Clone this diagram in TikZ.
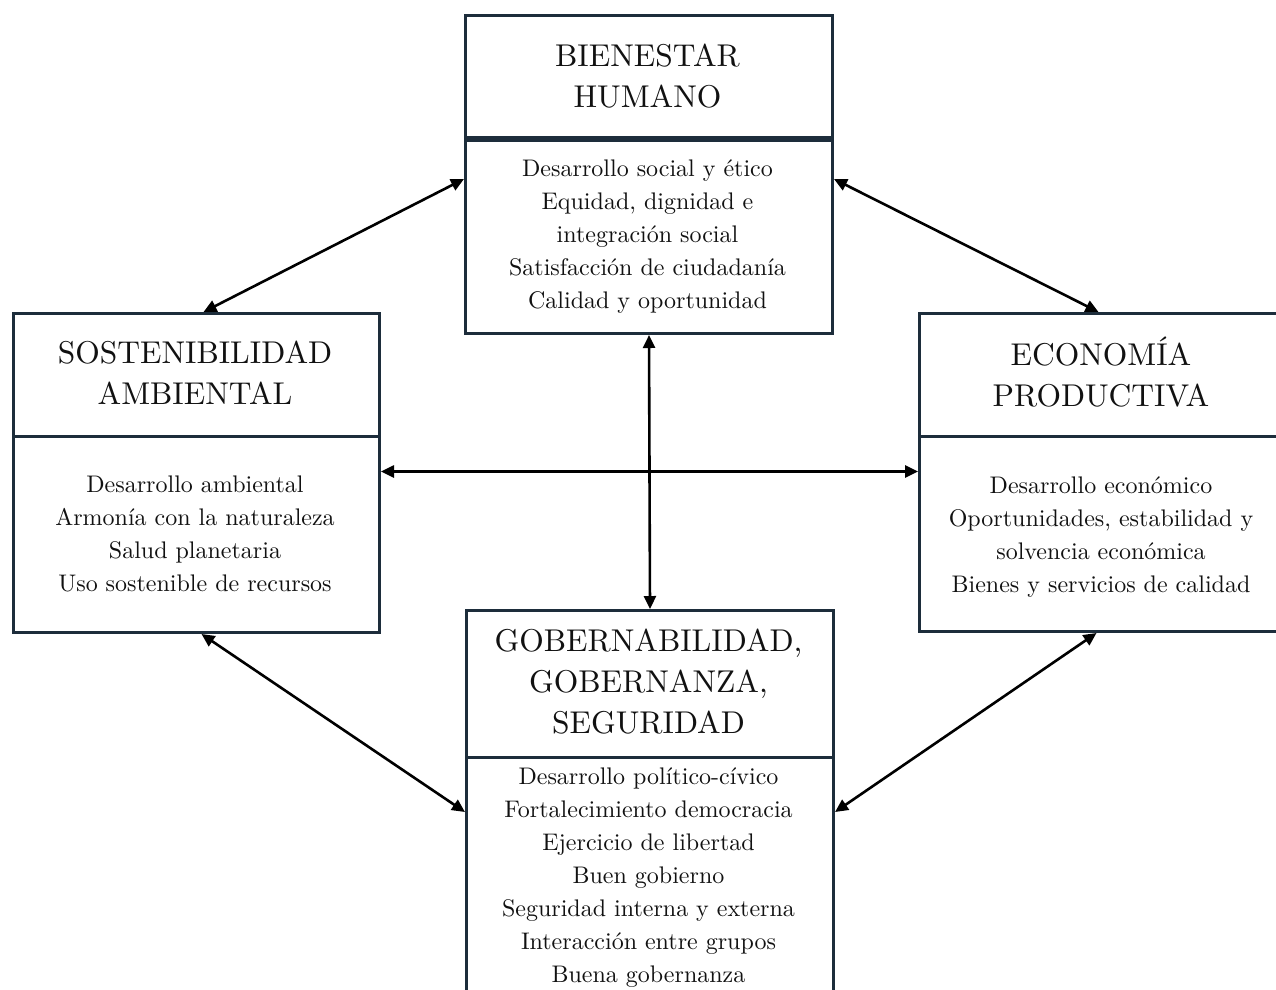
\documentclass[tikz,border=0pt]{standalone}
\usepackage{fontspec}
\setmainfont{lmroman10-regular.otf}
\usetikzlibrary{arrows.meta}
\definecolor{frame}{HTML}{1D2D3B}
\definecolor{ink}{HTML}{111111}
\begin{document}
\begin{tikzpicture}[x=1pt,y=-1pt,
  panel/.style={draw=frame,line width=3pt,inner sep=0pt,anchor=north west},
  heading/.style={font=\fontsize{31.5}{41}\selectfont,align=center,text=ink,inner sep=0pt},
  items/.style={font=\fontsize{24}{33}\selectfont,align=center,text=ink,inner sep=0pt},
  link/.style={line width=2.6pt,black,
    {Triangle[length=13pt,width=12pt]}-{Triangle[length=13pt,width=12pt]}}]
\useasboundingbox (0,0) rectangle (1276,989);
\clip (0,0) rectangle (1276,989);

% Bienestar humano (top)
\node[panel,minimum width=367pt,minimum height=121.5pt] (bienHead) at (464,14) {};
\node[panel,minimum width=367pt,minimum height=193.5pt] (bienBody) at (464,138.5) {};
\node[heading] (bienTitle) at (647.5,76) {BIENESTAR\\HUMANO};
\node[items] (bienText) at (647.5,237) {Desarrollo social y ético\\Equidad, dignidad e\\integración social\\Satisfacción de ciudadanía\\Calidad y oportunidad};

% Sostenibilidad ambiental (left)
\node[panel,minimum width=366pt,minimum height=123pt] (sosHead) at (12,312) {};
\node[panel,minimum width=366pt,minimum height=196pt] (sosBody) at (12,435) {};
\node[heading] (sosTitle) at (195,373) {SOSTENIBILIDAD\\AMBIENTAL};
\node[items] (sosText) at (195,534) {Desarrollo ambiental\\Armonía con la naturaleza\\Salud planetaria\\Uso sostenible de recursos};

% Economía productiva (right)
\node[panel,minimum width=366pt,minimum height=123pt] (ecoHead) at (918,312) {};
\node[panel,minimum width=366pt,minimum height=195pt] (ecoBody) at (918,435) {};
\node[heading] (ecoTitle) at (1101,372) {ECONOMÍA\\PRODUCTIVA};
\node[items] (ecoText) at (1101,537) {Desarrollo económico\\Oportunidades, estabilidad y\\solvencia económica\\Bienes y servicios de calidad};

% Gobernabilidad, gobernanza, seguridad (bottom)
\node[panel,minimum width=367pt,minimum height=147pt] (gobHead) at (465,609) {};
\node[panel,minimum width=367pt,minimum height=260pt] (gobBody) at (465,756) {};
\node[heading] (gobTitle) at (648.5,682) {GOBERNABILIDAD,\\GOBERNANZA,\\SEGURIDAD};
\node[items,anchor=north] (gobText) at (648.5,768) {Desarrollo político-cívico\\Fortalecimiento democracia\\Ejercicio de libertad\\Buen gobierno\\Seguridad interna y externa\\Interacción entre grupos\\Buena gobernanza};

% Two-way links
\draw[link] ([xshift=7pt]sosHead.north) -- ([yshift=-40.5pt]bienBody.north west);
\draw[link] ([yshift=-40.5pt]bienBody.north east) -- ([xshift=-4pt]ecoHead.north);
\draw[link] ([xshift=5pt]sosBody.south) -- ([yshift=-56pt]gobBody.north west);
\draw[link] ([xshift=-6pt]ecoBody.south) -- ([yshift=-56pt]gobBody.north east);
\draw[link] (bienBody.south) -- (gobHead.north);
\draw[link] ([yshift=63pt]sosBody.east) -- ([yshift=63pt]sosBody.east -| ecoBody.west);
\end{tikzpicture}
\end{document}
